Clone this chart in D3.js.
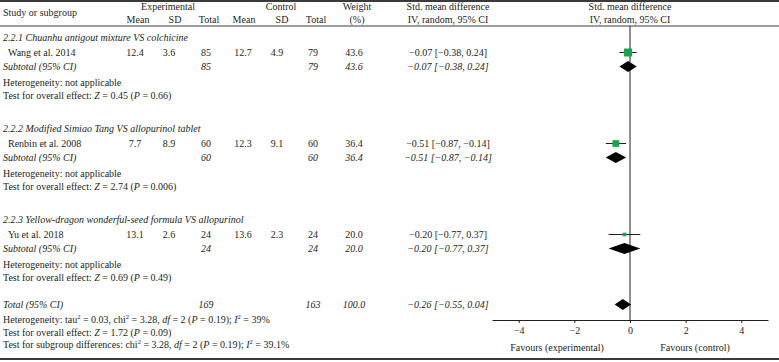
<!DOCTYPE html>
<html>
<head>
<meta charset="utf-8">
<script src="https://cdn.jsdelivr.net/npm/d3@7"></script>
<style>
  body { margin: 0; background: #fff; }
  svg text { font-family: "Liberation Serif", "DejaVu Serif", serif; font-size: 10px; fill: #231f20; }
  .it { font-style: italic; }
</style>
</head>
<body>
<svg id="chart" width="779" height="362"></svg>
<script>
// Subgroups and studies
const groups = [
  "2.2.1 Chuanhu antigout mixture VS colchicine",
  "2.2.2 Modified Simiao Tang VS allopurinol tablet",
  "2.2.3 Yellow-dragon wonderful-seed formula VS allopurinol",
];
const studies = ["Wang et al. 2014", "Renbin et al. 2008", "Yu et al. 2018"];
const expMean = [12.4, 7.7, 13.1];
const expSD = [3.6, 8.9, 2.6];
const expN = [85, 60, 24];
const ctrlMean = [12.7, 12.3, 13.6];
const ctrlSD = [4.9, 9.1, 2.3];
const ctrlN = [79, 60, 24];
const weights = [43.6, 36.4, 20.0];
const smd = [-0.07, -0.51, -0.2];
const ciLow = [-0.38, -0.87, -0.77];
const ciHigh = [0.24, -0.14, 0.37];
const zTests = [["0.45", "0.66"], ["2.74", "0.006"], ["0.69", "0.49"]];

// Overall
const total = { expN: 169, ctrlN: 163, weight: 100.0, smd: -0.26, lo: -0.55, hi: 0.04 };
const axisTicks = [-4, -2, 0, 2, 4];

const svg = d3.select("#chart");
const W = 779;

const x = d3.scaleLinear().domain([-4.96, 4.96]).range([492, 768]);
const boxSize = d3.scaleLinear().domain([0, 43.6]).range([0, 8]);

const fmt1 = d3.format(".1f");
const fmt2 = (v) => d3.format(".2f")(v).replace("-", "\u2212");
const ciText = (m, l, h) => `${fmt2(m)} [${fmt2(l)}, ${fmt2(h)}]`;

// column centres
const col = { eM: 135, eSD: 169, eN: 206, cM: 243, cSD: 277, cN: 313, w: 354, ci: 448 };

function txt(xp, yp, s, anchor = "middle", cls = "") {
  return svg.append("text").attr("x", xp).attr("y", yp).attr("text-anchor", anchor)
    .attr("class", cls).text(s);
}

// rich text line: parts are [text, kind] with kind "", "it" or "sup"
function rich(xp, yp, parts) {
  const t = svg.append("text").attr("x", xp).attr("y", yp);
  let raised = false;
  parts.forEach(([s, kind]) => {
    const sp = t.append("tspan").text(s);
    if (kind === "it") sp.attr("class", "it");
    if (kind === "sup") {
      sp.attr("dy", -4).attr("font-size", 6.5);
      raised = true;
    } else if (raised) {
      sp.attr("dy", 4);
      raised = false;
    }
  });
  return t;
}

// rules
svg.append("line").attr("x1", 0).attr("x2", W).attr("y1", 1).attr("y2", 1)
  .attr("stroke", "#3a3a3a").attr("stroke-width", 2);
svg.append("line").attr("x1", 0).attr("x2", W).attr("y1", 26).attr("y2", 26)
  .attr("stroke", "#3a3a3a").attr("stroke-width", 1);
svg.append("line").attr("x1", 0).attr("x2", W).attr("y1", 359).attr("y2", 359)
  .attr("stroke", "#3a3a3a").attr("stroke-width", 2);

// header
txt(3, 16, "Study or subgroup", "start");
txt(168, 10, "Experimental");
txt(281, 10, "Control");
txt(357, 10, "Weight");
txt(448, 10, "Std. mean difference");
txt(630, 10, "Std. mean difference");
[["Mean", 138], ["SD", 175], ["Total", 209], ["Mean", 244], ["SD", 282], ["Total", 316], ["(%)", 357]]
  .forEach(([s, xp]) => txt(xp, 23, s));
txt(448, 23, "IV, random, 95% CI");
txt(630, 23, "IV, random, 95% CI");

// zero line
svg.append("line").attr("x1", x(0)).attr("x2", x(0)).attr("y1", 26).attr("y2", 320)
  .attr("stroke", "#231f20").attr("stroke-width", 1);

function diamond(yc, m, l, h, half = 5.5) {
  svg.append("path")
    .attr("d", `M${x(l)},${yc}L${x(m)},${yc - half}L${x(h)},${yc}L${x(m)},${yc + half}Z`)
    .attr("fill", "#000");
}

function zLine(yp, z, p) {
  rich(3, yp, [["Test for overall effect: ", ""], ["Z", "it"], [` = ${z} (`, ""], ["P", "it"], [` = ${p})`, ""]]);
}

const groupTop = [41, 132, 223];
groups.forEach((g, i) => {
  const y0 = groupTop[i];
  txt(3, y0, g, "start", "it");
  const ys = y0 + 15;
  txt(8, ys, studies[i], "start");
  txt(col.eM, ys, fmt1(expMean[i]));
  txt(col.eSD, ys, fmt1(expSD[i]));
  txt(col.eN, ys, expN[i]);
  txt(col.cM, ys, fmt1(ctrlMean[i]));
  txt(col.cSD, ys, fmt1(ctrlSD[i]));
  txt(col.cN, ys, ctrlN[i]);
  txt(col.w, ys, fmt1(weights[i]));
  txt(col.ci, ys, ciText(smd[i], ciLow[i], ciHigh[i]));

  // study marker
  const yc = ys - 3.5;
  svg.append("line").attr("x1", x(ciLow[i])).attr("x2", x(ciHigh[i]))
    .attr("y1", yc).attr("y2", yc).attr("stroke", "#231f20").attr("stroke-width", 1);
  const s = boxSize(weights[i]);
  svg.append("rect").attr("x", x(smd[i]) - s / 2).attr("y", yc - s / 2)
    .attr("width", s).attr("height", s).attr("fill", "#12a84a");

  // subtotal
  const yt = ys + 14;
  txt(3, yt, "Subtotal (95% CI)", "start", "it");
  txt(col.eN, yt, expN[i], "middle", "it");
  txt(col.cN, yt, ctrlN[i], "middle", "it");
  txt(col.w, yt, fmt1(weights[i]), "middle", "it");
  txt(col.ci, yt, ciText(smd[i], ciLow[i], ciHigh[i]), "middle", "it");
  diamond(yt - 3.5, smd[i], ciLow[i], ciHigh[i]);

  txt(3, yt + 16, "Heterogeneity: not applicable", "start");
  zLine(yt + 29, zTests[i][0], zTests[i][1]);
});

// total
const yT = 308;
txt(3, yT, "Total (95% CI)", "start", "it");
txt(col.eN, yT, total.expN, "middle", "it");
txt(col.cN, yT, total.ctrlN, "middle", "it");
txt(col.w, yT, fmt1(total.weight), "middle", "it");
txt(col.ci, yT, ciText(total.smd, total.lo, total.hi), "middle", "it");
diamond(yT - 3.5, total.smd, total.lo, total.hi);

rich(3, 323, [
  ["Heterogeneity: tau", ""], ["2", "sup"], [" = 0.03, chi", ""], ["2", "sup"],
  [" = 3.28, ", ""], ["df", "it"], [" = 2 (", ""], ["P", "it"], [" = 0.19); ", ""],
  ["I", "it"], ["2", "sup"], [" = 39%", ""],
]);
zLine(335.5, "1.72", "0.09");
rich(3, 348, [
  ["Test for subgroup differences: chi", ""], ["2", "sup"],
  [" = 3.28, ", ""], ["df", "it"], [" = 2 (", ""], ["P", "it"], [" = 0.19); ", ""],
  ["I", "it"], ["2", "sup"], [" = 39.1%", ""],
]);

// axis
const axis = svg.append("g").attr("transform", "translate(0,320)")
  .call(d3.axisBottom(x).tickValues(axisTicks).tickSize(3).tickSizeOuter(0).tickPadding(4));
axis.select(".domain").attr("stroke", "#231f20");
axis.selectAll(".tick line").attr("stroke", "#231f20");
axis.selectAll(".tick text").attr("font-size", 10).attr("font-family", null);

txt(557, 351, "Favours (experimental)");
txt(695, 351, "Favours (control)");
</script>
</body>
</html>
